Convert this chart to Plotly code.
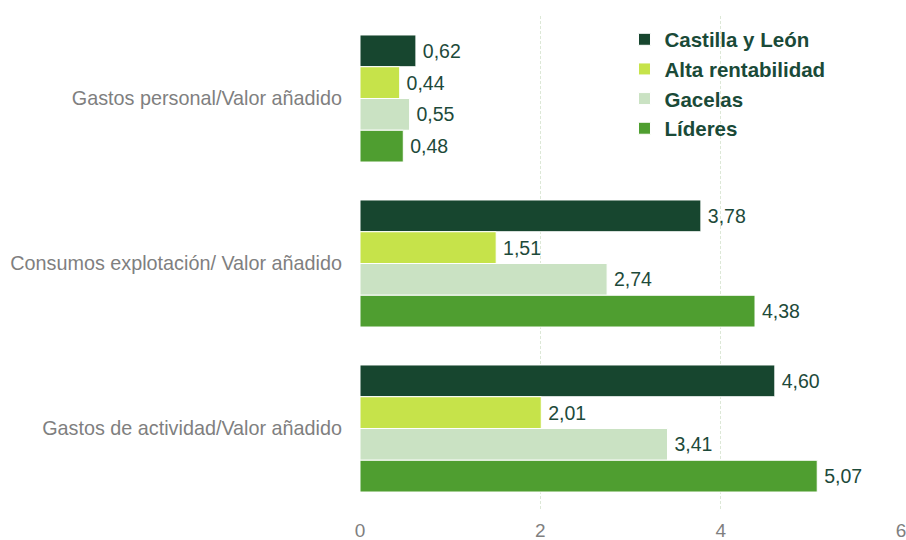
import plotly.graph_objects as go

categories = ["Gastos personal/Valor añadido",
              "Consumos explotación/ Valor añadido",
              "Gastos de actividad/Valor añadido"]
series_names = ["Castilla y León", "Alta rentabilidad", "Gacelas", "Líderes"]
castilla = [0.62, 3.78, 4.60]
alta = [0.44, 1.51, 2.01]
gacelas = [0.55, 2.74, 3.41]
lideres = [0.48, 4.38, 5.07]
series_values = [castilla, alta, gacelas, lideres]
colors = ["#17462f", "#c6e34a", "#cae2c3", "#4f9e30"]
x_ticks = [0, 2, 4, 6]

fig = go.Figure()
for name, vals, col in zip(series_names, series_values, colors):
    fig.add_trace(go.Bar(
        name=name, y=categories, x=vals, orientation="h",
        marker=dict(color=col, line=dict(color="white", width=1)),
        text=["\u2009" + f"{v:.2f}".replace(".", ",") for v in vals],
        textposition="outside", cliponaxis=False,
        textfont=dict(family="Liberation Sans, Arial", size=19.5, color="#1d4a3a"),
    ))

fig.update_layout(
    barmode="group", bargap=0.23, bargroupgap=0,
    width=906, height=540,
    margin=dict(l=360, r=4, t=16, b=29),
    plot_bgcolor="white", paper_bgcolor="white",
    font=dict(family="Liberation Sans, Arial"),
    legend=dict(x=0.488, y=0.993, xanchor="left", yanchor="top",
                font=dict(size=20.5, color="#1a4a38", family="Liberation Sans, Arial", weight="bold"),
                bgcolor="rgba(0,0,0,0)", tracegroupgap=0),
    showlegend=True,
)
fig.update_xaxes(range=[0, 6.01], tickvals=x_ticks, ticktext=[str(t) for t in x_ticks],
                 showgrid=True, gridcolor="#dce8d6", griddash="3px,2px", gridwidth=1,
                 zeroline=False, showline=False,
                 tickfont=dict(size=19, color="#7f7f7f"), ticklabelstandoff=6,
                 ticklabeloverflow="allow", automargin=False)
fig.update_yaxes(autorange="reversed", showgrid=False, zeroline=False, showline=False,
                 tickfont=dict(size=19.8, color="#7f7f7f"), ticklabelstandoff=17,
                 automargin=False)

# remove the default 8px page margin so the figure fills the 906x540 window
fig.write_html("out.html", config={"displayModeBar": False},
               post_script="document.body.style.margin='0';document.body.style.overflow='hidden';")
